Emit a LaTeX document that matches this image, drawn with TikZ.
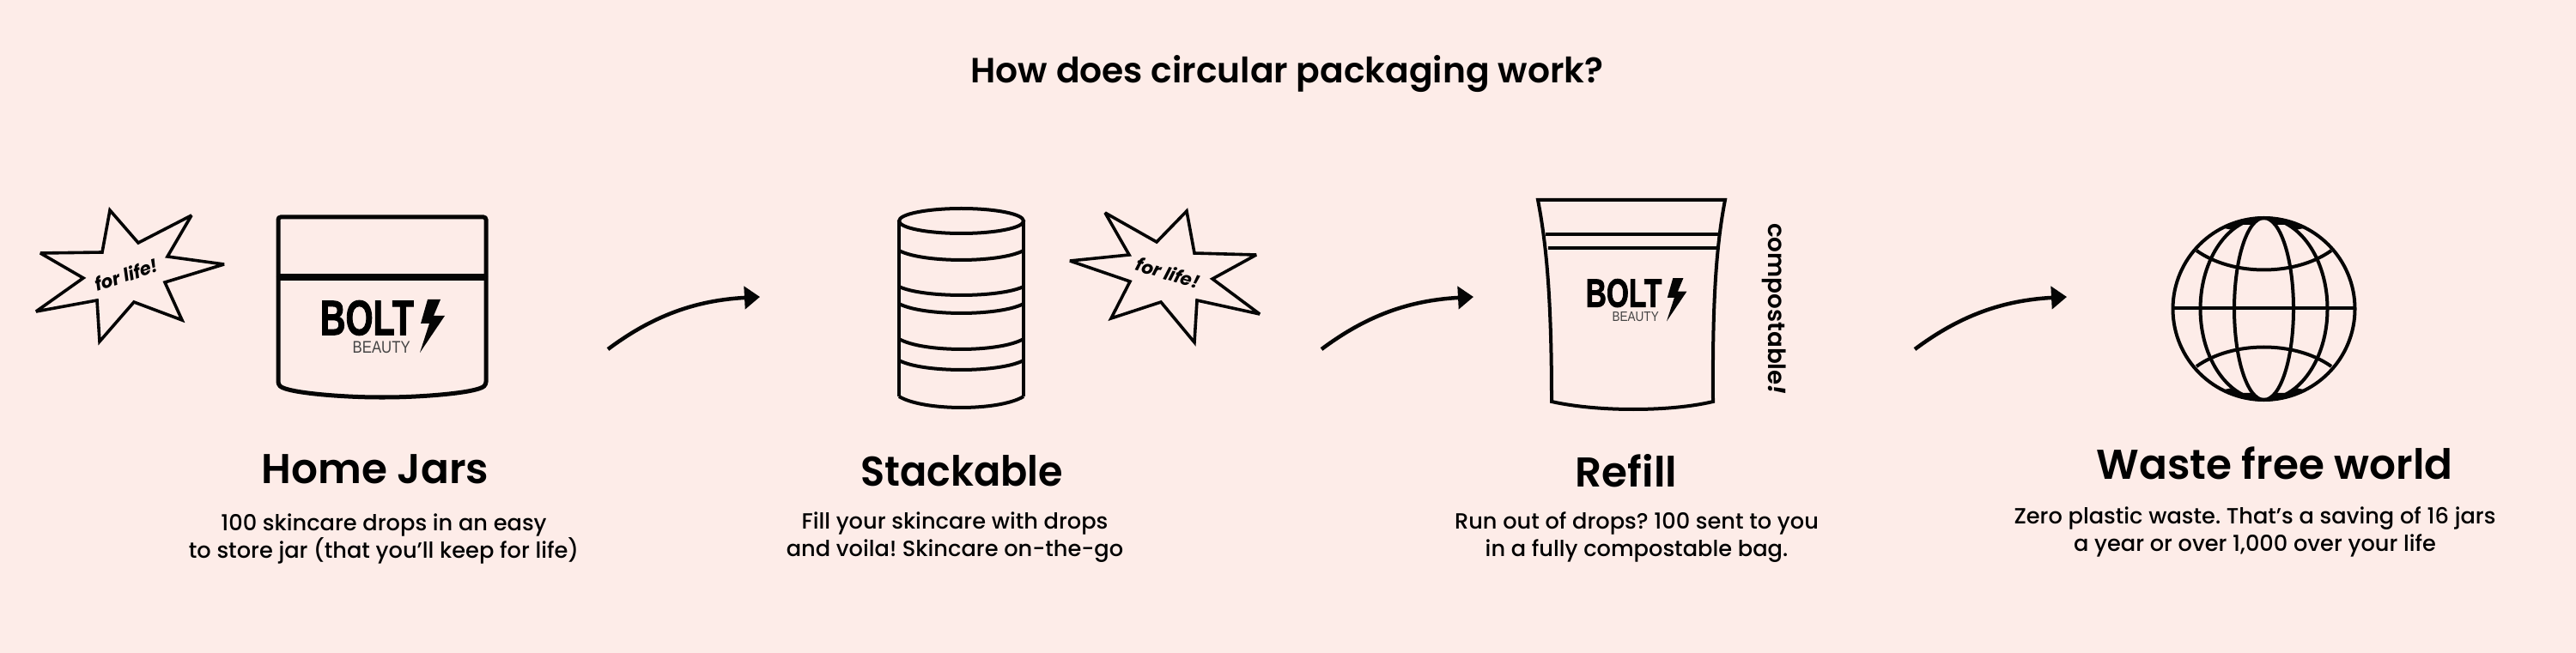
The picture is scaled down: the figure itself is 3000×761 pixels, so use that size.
\documentclass[tikz,border=0pt]{standalone}
\usepackage{graphicx}
\usepackage{fontspec}
\setmainfont{Poppins Medium}[BoldFont=Poppins SemiBold,ItalicFont=Poppins Medium Italic,BoldItalicFont=Poppins Bold Italic]
\newfontfamily\logofont{Liberation Sans Bold}[FakeBold=2]
\newfontfamily\logosubfont{Liberation Sans}
\usetikzlibrary{arrows.meta}
\definecolor{pagebg}{HTML}{FDECE8}
\definecolor{inkblack}{HTML}{050505}
\frenchspacing
\tikzset{
  iconline/.style={draw=inkblack, line width=0.04cm, line join=miter},
  burstline/.style={draw=inkblack, line width=0.036cm, line join=miter, miter limit=3},
  flowarrow/.style={draw=inkblack, line width=0.045cm, -{Triangle[length=0.18cm,width=0.26cm]}},
  titletext/.style={inner sep=0, font=\fontsize{11.6}{14}\selectfont\bfseries},
  headtext/.style={inner sep=0, font=\fontsize{13.8}{18}\selectfont\bfseries},
  bodytext/.style={inner sep=0, align=center, font=\fontsize{7.3}{9}\selectfont},
  bursttext/.style={inner sep=0, font=\fontsize{6}{8}\selectfont\bfseries\itshape},
  boltlogo/.pic={
    \node[inner sep=0, anchor=west, transform shape, font=\logofont\fontsize{16.3}{16.3}\selectfont] (-word) at (-1,20.5) {\scalebox{.72}[1]{BOLT}};
    \node[inner sep=0, anchor=west, transform shape, text=inkblack!75, font=\logosubfont\fontsize{5.6}{5.6}\selectfont] (-sub) at (37,55) {\scalebox{.85}[1]{BEAUTY}};
    \fill[inkblack] (125,-1) -- (140,-1) -- (132,18) -- (145,18) -- (116,61) -- (127,27) -- (117,27) -- cycle;
  }
}

\begin{document}
\begin{tikzpicture}[x=0.01cm, y=-0.01cm]
    % Fundo
    \fill[pagebg] (0,0) rectangle (3000,761);

    % Titulo
    \node[titletext] (title) at (1499,86) {How does circular packaging work?};

    % Estrela da esquerda
    \draw[burstline] (128,245) -- (161,283) -- (223,251) -- (195,299) -- (261,308) -- (192,329) -- (212,373) -- (156,352) -- (116,398) -- (113,350) -- (42,363) -- (97,324) -- (47,295) -- (119,294) -- cycle;
    \node[bursttext, rotate=18] (burstA) at (147,320) {for life!};

    % Pote
    \draw[draw=inkblack, line width=0.05cm, rounded corners=0.03cm] (324,323) -- (324,253) -- (566,253) -- (566,323);
    \draw[draw=inkblack, line width=0.075cm] (322,323) -- (568,323);
    \draw[draw=inkblack, line width=0.05cm, rounded corners=0.03cm] (324,323) -- (324,448) .. controls (335,458) and (400,463) .. (445,463) .. controls (490,463) and (555,458) .. (566,448) -- (566,323);
    \pic (jarLogo) at (373,350) {boltlogo};

    % Pilha de potes
    \draw[iconline] (1119.5,257.5) ellipse [x radius=72.5, y radius=14.5];
    \draw[iconline] (1047,257.5) -- (1047,462);
    \draw[iconline] (1192,257.5) -- (1192,462);
    \foreach \e/\d in {292/11, 334/10, 354/11, 395/12, 420/11, 462/13}
      \draw[iconline] (1047,\e) .. controls (1075,{\e+1.33*\d}) and (1164,{\e+1.33*\d}) .. (1192,\e);

    % Estrela do meio
    \draw[burstline] (1246,304) -- (1315,297) -- (1287,248) -- (1347,282) -- (1382,246) -- (1391,295) -- (1463,297) -- (1412,325) -- (1467,366) -- (1394,350) -- (1391,399) -- (1352,352) -- (1294,371) -- (1316,328) -- cycle;
    \node[bursttext, rotate=-17] (burstB) at (1360,318) {for life!};

    % Saco
    \draw[iconline] (1791,233) -- (2009,233) .. controls (2000,280) and (1994,340) .. (1995,468) .. controls (1945,480) and (1860,480) .. (1807,468) .. controls (1807,340) and (1800,280) .. (1791,233) -- cycle;
    \draw[iconline] (1800,273) -- (2001,273);
    \draw[iconline] (1803,289) -- (1999,289);
    \pic[scale=.81] (bagLogo) at (1847,325) {boltlogo};
    \node[inner sep=0, rotate=-90, font=\fontsize{7.9}{10}\selectfont\bfseries] (compost) at (2066,360) {compostable\textit{!}};

    % Globo
    \draw[iconline] (2636.5,360) circle (106);
    \draw[iconline] (2636.5,360) ellipse [x radius=34.5, y radius=106];
    \draw[iconline] (2636.5,360) ellipse [x radius=74, y radius=106];
    \draw[iconline] (2531,359) -- (2742,359);
    \draw[iconline] (2558,292) .. controls (2600,322) and (2673,322) .. (2715,292);
    \draw[iconline] (2558,427) .. controls (2600,397) and (2673,397) .. (2715,427);
    \begin{scope}[shift={(2636.5,360)}]
      \foreach \sx in {1,-1}
        \foreach \sy in {1,-1}
          \fill[inkblack, xscale=\sx, yscale=\sy] (-46.5,-94) .. controls (-31.5,-102) and (-16.5,-106) .. (0,-106) -- (-13.5,-98) -- (-28.5,-98) -- (-36.5,-92) -- cycle;
    \end{scope}

    % Setas
    \coordinate (jarOut) at (708,407);
    \coordinate (stackIn) at (885,346);
    \coordinate (stackOut) at (1539,407);
    \coordinate (refillIn) at (1716,346);
    \coordinate (refillOut) at (2230,407);
    \coordinate (worldIn) at (2407,346);
    \draw[flowarrow] (jarOut) .. controls +(52,-39) and +(-75,4) .. (stackIn);
    \draw[flowarrow] (stackOut) .. controls +(52,-39) and +(-75,4) .. (refillIn);
    \draw[flowarrow] (refillOut) .. controls +(52,-39) and +(-75,4) .. (worldIn);

    % Rotulos
    \node[headtext] (jarHead) at (437,547) {Home Jars};
    \node[headtext] (stackHead) at (1120,549) {\scalebox{.95}[1]{Stackable}};
    \node[headtext] (refillHead) at (1894,549) {Refill};
    \node[headtext] (worldHead) at (2649,540) {Waste free world};

    % Textos
    \node[bodytext] (jarBody) at (447,628) {100 skincare drops in an easy\\to store jar (that you’ll keep for life)};
    \node[bodytext] (stackBody) at (1112,626) {Fill your skincare with drops\\and voila! Skincare on-the-go};
    \node[bodytext] (refillBody) at (1906,626) {Run out of drops? 100 sent to you\\in a fully compostable bag.};
    \node[bodytext] (worldBody) at (2626,620) {Zero plastic waste. That’s a saving of 16 jars\\a year or over 1,000 over your life};
\end{tikzpicture}
\end{document}
